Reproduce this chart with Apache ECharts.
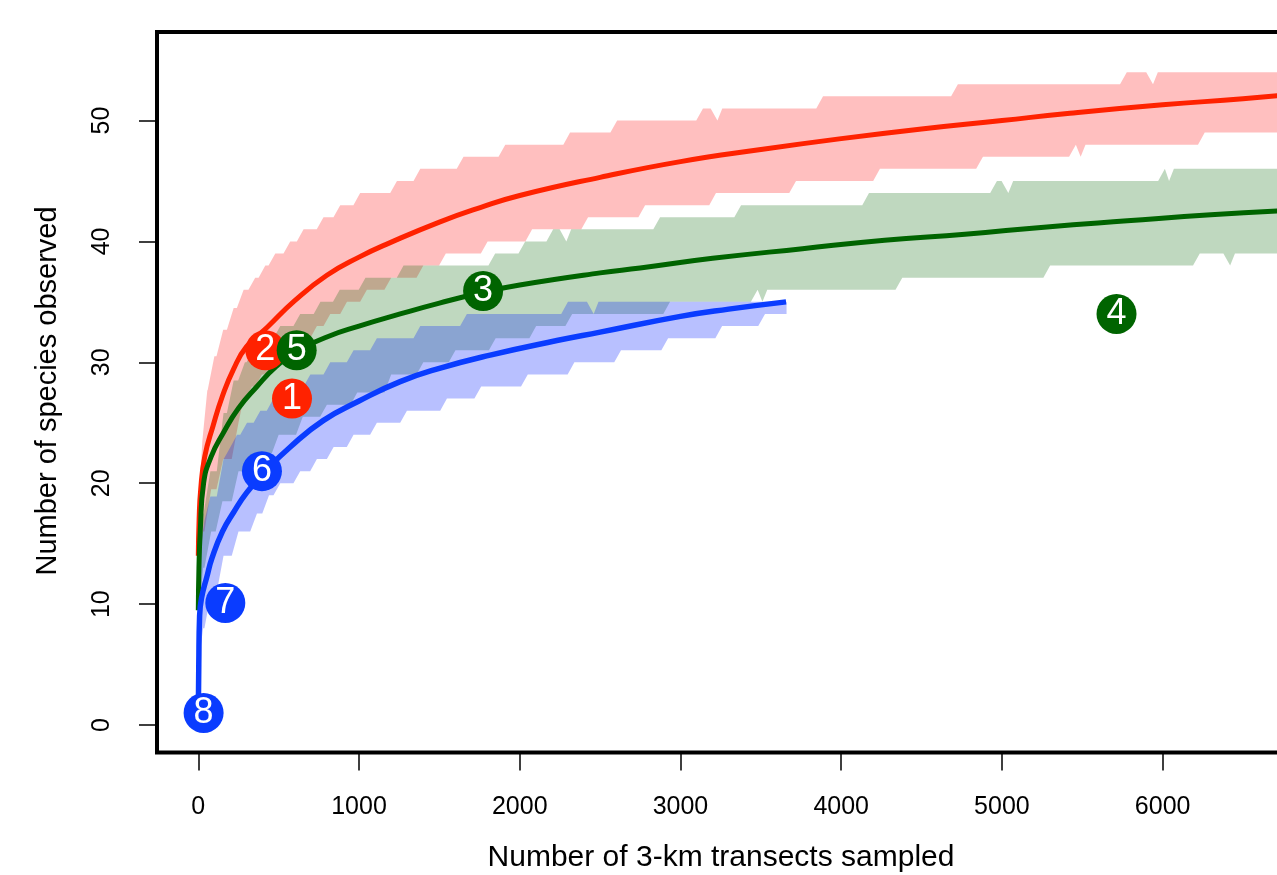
<!DOCTYPE html>
<html>
<head>
<meta charset="utf-8">
<script src="https://cdn.jsdelivr.net/npm/echarts@6/dist/echarts.min.js"></script>
<style>
html,body{margin:0;padding:0;background:#fff;}
#chart{width:1277px;height:875px;}
</style>
</head>
<body>
<div id="chart"></div>
<script>
// ---- data ----
const xTicks = [0, 1000, 2000, 3000, 4000, 5000, 6000];
const yTicks = [0, 10, 20, 30, 40, 50];
const xTitle = 'Number of 3-km transects sampled';
const yTitle = 'Number of species observed';

// mean rarefaction curves [transects, species]
const redMean = [[0,14],[5,17],[15,19.5],[40,22.2],[93,24.8],[150,27.2],[218,29.4],[300,31.3],[429,32.9],[600,35.1],[800,37.2],[1000,38.7],[1194,39.9],[1500,41.6],[1754,42.8],[2000,43.8],[2500,45.3],[3000,46.6],[3500,47.6],[4000,48.5],[4500,49.3],[5000,50],[5423,50.6],[6000,51.3],[6500,51.8],[6836,52.2]];
const greenMean = [[0,9.5],[4,13],[12,16],[33,20],[80,22.2],[157,24.2],[250,26.2],[365,28],[480,29.6],[603,30.8],[800,32.1],[1000,33],[1256,34],[1500,34.9],[1772,35.8],[2000,36.4],[2500,37.4],[2749,37.8],[3200,38.6],[3759,39.4],[4270,40.1],[4770,40.6],[5280,41.2],[5780,41.7],[6300,42.2],[6836,42.6]];
const blueMean = [[0,1],[3,5],[8,9],[20,10.5],[54,12.3],[85,13.8],[150,16],[220,17.6],[300,19.2],[417,21],[572,23],[779,25.2],[1000,26.8],[1256,28.4],[1500,29.5],[1816,30.6],[2231,31.8],[2500,32.5],[3000,33.8],[3300,34.4],[3657,35]];

// interval bounds: [transects, species reached at that point] (staircase)
const redUpper = [[0,17],[10,20],[25,23.5],[56,27.7],[100,30.5],[155,32.7],[220,34.5],[282,36],[354,37],[417,38],[479,39],[572,40],[655,41],[779,42],[883,43],[1007,44],[1236,45],[1381,46],[1650,47],[1910,48],[2313,49],[2606,50],[3140,51],[3230,50],[3260,51],[3887,52],[4726,53],[5777,54],[5940,53],[5970,54],[6836,54]];
const redLower = [[0,13],[30,16],[80,19.5],[155,22],[250,25],[282,27],[334,28],[396,29],[468,30],[551,31],[634,32],[738,33],[821,34],[925,35],[1049,36],[1200,37],[1400,38],[1540,39],[1800,40],[2077,41],[2425,42],[2780,43],[3221,44],[3719,45],[4241,46],[4882,47],[5460,48],[5490,47],[5520,48],[6262,49],[6836,49]];
const greenUpper = [[0,10],[5,14],[20,17.5],[75,21],[157,25.8],[220,28.5],[290,30],[342,31],[427,32],[510,33],[634,34],[760,35],[880,36],[1040,37],[1277,38],[1847,39],[2034,40],[2208,41],[2290,40],[2320,41],[2873,42],[3377,43],[4173,44],[4969,45],[5040,44],[5070,45],[6014,46],[6040,45],[6070,46],[6836,46]];
const greenLower = [[0,7],[10,10],[30,13],[80,16],[150,18.5],[250,21],[365,22.5],[500,24],[650,25.5],[800,26.5],[989,27.5],[1200,29],[1400,30],[1600,31],[1850,32],[2102,33],[2326,34],[2935,35],[3480,36],[3510,35],[3540,36],[4380,37],[5300,38],[6231,39],[6420,38],[6450,39],[6836,39]];
const blueUpper = [[0,8],[5,12],[12,14.8],[40,17],[75,18.9],[157,22],[200,23],[241,24],[303,25],[386,26],[468,27],[572,28],[697,29],[821,30],[966,31],[1111,32],[1381,33],[1671,34],[2300,35],[2460,34],[2490,35],[3660,35]];
const blueLower = [[0,5],[30,8],[80,11],[157,14],[250,16],[365,17.5],[440,19],[510,20],[634,21],[738,22],[842,23],[966,24],[1111,25],[1298,26],[1547,27],[1760,28],[2050,29],[2340,30],[2630,31],[2923,32],[3259,33],[3526,34],[3660,34]];

// numbered site markers: [transects, species, label]
const redMarks = [[417,31,'2'],[583,27,'1']];
const greenMarks = [[612,31,'5'],[1772,35.9,'3'],[5713,34,'4']];
const blueMarks = [[396,21,'6'],[168,10.1,'7'],[33,1,'8']];

// ---- styling ----
const RED = '#ff2200', GREEN = '#006400', BLUE = '#0a3cff';
const FONT = '"Liberation Sans", Arial, Helvetica, sans-serif';

function stepPts(bp) {
  const r = 42, out = [bp[0]];
  for (let i = 1; i < bp.length; i++) {
    const p = bp[i - 1], c = bp[i];
    const dx = c[0] - p[0];
    const d = Math.min(r, dx);
    if (d < dx) out.push([c[0] - d, p[1]]);
    out.push(c);
  }
  return out;
}

function bandSeries(upper, lower, fill) {
  const up = stepPts(upper), lo = stepPts(lower).reverse();
  return {
    type: 'custom', coordinateSystem: 'cartesian2d', silent: true,
    data: [[0, 0]],
    renderItem: function (params, api) {
      const pts = up.concat(lo).map(p => api.coord(p));
      return { type: 'polygon', shape: { points: pts }, style: { fill: fill } };
    },
    z: 1
  };
}

function lineSeries(data, color, w) {
  return {
    type: 'line', data: data, showSymbol: false, smooth: 0.5,
    lineStyle: { color: color, width: w }, silent: true, z: 3
  };
}

function markSeries(marks, color) {
  return {
    type: 'scatter', data: marks.map(m => ({ value: [m[0], m[1]], name: m[2] })),
    symbol: 'circle', symbolSize: 40,
    itemStyle: { color: color, opacity: 1 },
    label: { show: true, position: 'inside', formatter: p => p.name, color: '#fff', fontSize: 36, fontFamily: FONT },
    silent: true, z: 5
  };
}

const chart = echarts.init(document.getElementById('chart'), null, { renderer: 'canvas' });
chart.setOption({
  animation: false,
  backgroundColor: '#fff',
  grid: { left: 157, top: 32, right: -20, bottom: 122.5, containLabel: false, outerBoundsMode: 'none', show: true, borderColor: '#000', borderWidth: 4, backgroundColor: 'transparent' },
  xAxis: {
    type: 'value', min: -257, max: 6836,
    axisLine: { show: false, onZero: false },
    splitLine: { show: false },
    axisTick: { show: true, customValues: xTicks, length: 18, lineStyle: { color: '#000', width: 1.5 } },
    axisLabel: { show: true, customValues: xTicks, formatter: v => String(v), margin: 42, color: '#000', fontSize: 25, fontFamily: FONT }
  },
  yAxis: {
    type: 'value', min: -2.27, max: 57.32,
    axisLine: { show: false, onZero: false },
    splitLine: { show: false },
    axisTick: { show: true, customValues: yTicks, length: 18, lineStyle: { color: '#000', width: 1.5 } },
    axisLabel: { show: true, customValues: yTicks, formatter: v => String(v), margin: 42, rotate: 90, color: '#000', fontSize: 25, fontFamily: FONT }
  },
  graphic: [
    { type: 'text', x: 721, y: 858, style: { text: xTitle, font: '30px ' + FONT, fill: '#000', align: 'center', verticalAlign: 'middle' } },
    { type: 'text', x: 48, y: 391, rotation: Math.PI / 2, style: { text: yTitle, font: '29px ' + FONT, fill: '#000', align: 'center', verticalAlign: 'middle' } }
  ],
  series: [
    bandSeries(redUpper, redLower, 'rgba(255,0,0,0.25)'),
    bandSeries(greenUpper, greenLower, 'rgba(0,100,0,0.25)'),
    bandSeries(blueUpper, blueLower, 'rgba(0,30,255,0.28)'),
    lineSeries(redMean, RED, 5),
    lineSeries(greenMean, GREEN, 5),
    lineSeries(blueMean, BLUE, 5.5),
    markSeries(redMarks, RED),
    markSeries(greenMarks, GREEN),
    markSeries(blueMarks, BLUE)
  ]
});
</script>
</body>
</html>
